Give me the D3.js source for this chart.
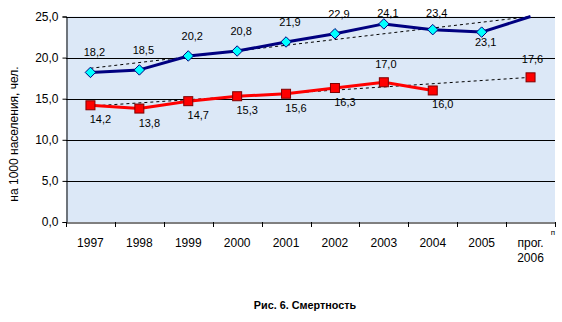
<!DOCTYPE html>
<html><head><meta charset="utf-8">
<script src="https://cdn.jsdelivr.net/npm/d3@7"></script>
<style>
html,body{margin:0;padding:0;background:#fff;}
svg{display:block;font-family:"Liberation Sans",Arial,sans-serif;}
</style></head>
<body><svg id="c" width="562" height="322"></svg>
<script>
const categories = ["1997","1998","1999","2000","2001","2002","2003","2004","2005","прог. 2006"];
const totalMortality = [18.2,18.5,20.2,20.8,21.9,22.9,24.1,23.4,23.1,25.0];
const workingMortality = [14.2,13.8,14.7,15.3,15.6,16.3,17.0,16.0,null,17.6];
const totalTrend = [18.7,25.0];
const workingTrend = [14.1,17.6];
const yTicks = [0,5,10,15,20,25];
const yTitle = "на 1000 населения, чел.";
const chartTitle = "Рис. 6. Смертность";

const svg = d3.select("#c");
const L=66, R=555, T=16.5, B=222;
const x = d3.scaleBand().domain(categories).range([L,R]);
const y = d3.scaleLinear().domain([0,25]).range([B,T]);
const cx = c => x(c)+x.bandwidth()/2;

// plot background
svg.append("rect").attr("x",L).attr("y",T).attr("width",R-L).attr("height",B-T).attr("fill","#dce8f7");

// gridlines
svg.append("g").selectAll("line").data(yTicks.filter(v=>v>0)).join("line")
  .attr("x1",L).attr("x2",R).attr("y1",d=>Math.round(y(d))+0.5).attr("y2",d=>Math.round(y(d))+0.5)
  .attr("stroke","#000").attr("stroke-width",1);

// y axis
const yAxis = d3.axisLeft(y).tickValues(yTicks).tickSize(4).tickFormat(d=>d3.format(".1f")(d).replace(".",","));
const gy = svg.append("g").attr("transform",`translate(${L+0.5},0)`).call(yAxis);
gy.select(".domain").attr("stroke","#000");
gy.selectAll("text").attr("font-size",12).attr("fill","#000").attr("x",-8).attr("font-family","Liberation Sans, Arial, sans-serif");

// x axis
const xAxis = d3.axisBottom(x).tickSize(0).tickFormat("");
const gx = svg.append("g").attr("transform",`translate(0,${Math.round(B)+0.5})`).call(xAxis);
gx.select(".domain").attr("stroke","#000");
// category boundary ticks
svg.append("g").selectAll("line").data(categories.map((c,i)=>i).concat([categories.length])).join("line")
  .attr("x1",i=>Math.round(L+i*x.bandwidth())+0.5).attr("x2",i=>Math.round(L+i*x.bandwidth())+0.5)
  .attr("y1",B).attr("y2",B+5).attr("stroke","#000");
// category labels
categories.forEach(c=>{
  const parts = c.split(" ");
  const t = svg.append("text").attr("x",cx(c)).attr("y",247).attr("text-anchor","middle")
    .attr("font-size",12).attr("fill","#000");
  parts.forEach((p,i)=>t.append("tspan").attr("x",cx(c)).attr("dy",i?15:0).text(p));
});
svg.append("text").attr("x",553).attr("y",235).attr("font-size",8).attr("text-anchor","middle").text("п");

// y title
svg.append("text").attr("transform","translate(18,134) rotate(-90)").attr("text-anchor","middle")
  .attr("font-size",12).attr("fill","#000").text(yTitle);

// trend lines
const first = categories[0], last = categories[categories.length-1];
[totalTrend, workingTrend].forEach(tr=>{
  svg.append("line").attr("x1",cx(first)).attr("y1",y(tr[0])).attr("x2",cx(last)).attr("y2",y(tr[1]))
    .attr("stroke","#000").attr("stroke-width",1).attr("stroke-dasharray","3,3");
});

// lines
const line = d3.line().defined(d=>d.v!=null).x(d=>cx(d.c)).y(d=>y(d.v));
const tData = categories.map((c,i)=>({c,v:totalMortality[i],i}));
const wData = categories.map((c,i)=>({c,v:workingMortality[i],i}));
svg.append("path").datum(tData).attr("d",line).attr("fill","none").attr("stroke","#000080").attr("stroke-width",3).attr("stroke-linejoin","round");
svg.append("path").datum(wData).attr("d",line).attr("fill","none").attr("stroke","#ff0000").attr("stroke-width",3).attr("stroke-linejoin","round");

// markers
const diamond = d3.symbol().type(d3.symbolDiamond2).size(70);
svg.append("g").selectAll("path").data(tData.filter(d=>d.i<categories.length-1)).join("path")
  .attr("d",diamond).attr("transform",d=>`translate(${cx(d.c)},${y(d.v)})`)
  .attr("fill","#00ffff").attr("stroke","#000080").attr("stroke-width",1);
svg.append("g").selectAll("rect").data(wData.filter(d=>d.v!=null)).join("rect")
  .attr("x",d=>cx(d.c)-4.5).attr("y",d=>y(d.v)-4.5).attr("width",9).attr("height",9)
  .attr("fill","#ff0000").attr("stroke","#800000").attr("stroke-width",1);

// labels
const fmt = v=>d3.format(".1f")(v).replace(".",",");
const tBelow = new Set([8]);
svg.append("g").selectAll("text").data(tData.filter(d=>d.i<categories.length-1)).join("text")
  .attr("x",d=>cx(d.c)+4)
  .attr("y",d=>tBelow.has(d.i)? y(d.v)+14 : Math.max(y(d.v)-16, 17))
  .attr("text-anchor","middle").attr("font-size",11).attr("fill","#000").text(d=>fmt(d.v));
const wAbove = new Set([6,9]);
svg.append("g").selectAll("text").data(wData.filter(d=>d.v!=null)).join("text")
  .attr("x",d=>cx(d.c)+(wAbove.has(d.i)?2:10))
  .attr("y",d=>wAbove.has(d.i)? y(d.v)-14 : y(d.v)+18)
  .attr("text-anchor","middle").attr("font-size",11).attr("fill","#000").text(d=>fmt(d.v));

// title
svg.append("text").attr("x",305).attr("y",309).attr("text-anchor","middle").attr("font-size",10.8)
  .attr("font-weight","bold").attr("fill","#000").text(chartTitle);
</script></body></html>
